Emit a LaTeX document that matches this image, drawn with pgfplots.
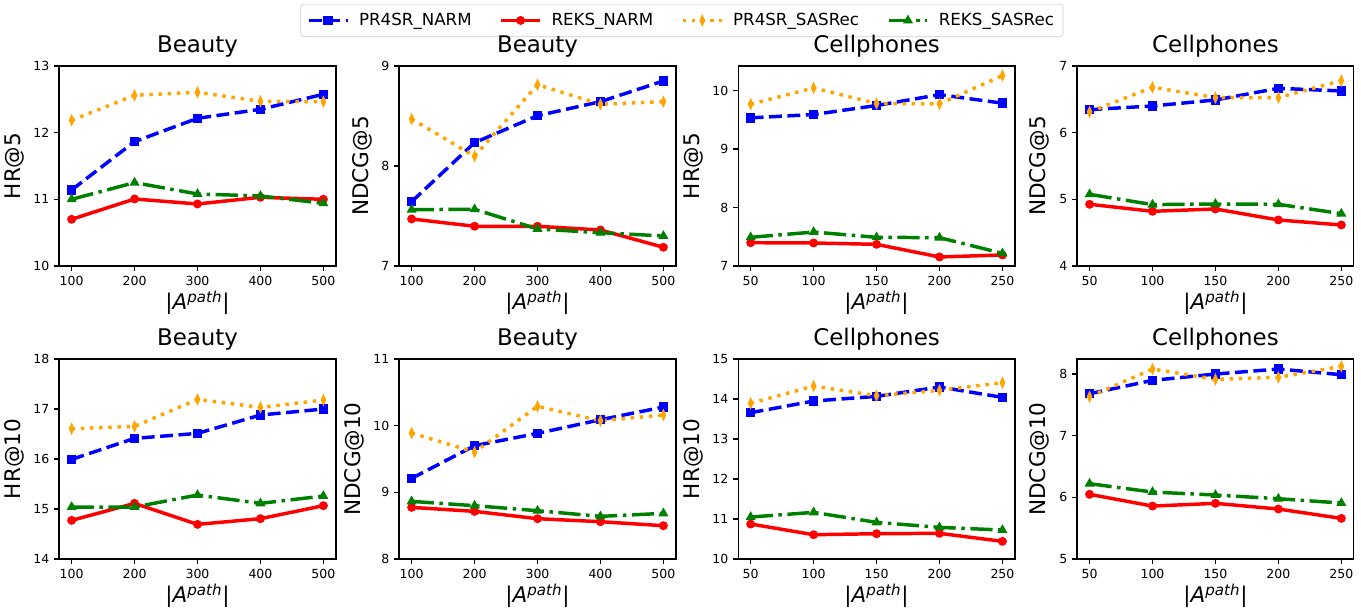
\documentclass[border=0pt]{standalone}
\usepackage{fontspec}
\setmainfont{DejaVu Sans}
\usepackage{pgfplots}
\pgfplotsset{compat=1.18}

\definecolor{mpblue}{rgb}{0,0,1}
\definecolor{mpred}{rgb}{1,0,0}
\definecolor{mporange}{rgb}{1,0.647,0}
\definecolor{mpgreen}{rgb}{0,0.502,0}

\pgfplotsset{
  panel/.style={
    width=199.4pt, height=144pt, scale only axis,
    anchor=north west,
    axis line style={line width=0.8pt},
    tick align=outside, xtick pos=bottom, ytick pos=left,
    major tick length=3.5pt,
    every tick/.style={black, line width=0.8pt},
    tick label style={font=\fontsize{9}{10}\selectfont},
    /pgf/number format/assume math mode=true,
    title style={font=\fontsize{16.5}{19}\selectfont, yshift=-3pt},
    label style={font=\fontsize{15.5}{18}\selectfont},
    xlabel style={yshift=3pt},
    xlabel={\textbar\textit{A}\textsuperscript{\textit{path}}\textbar},
    legend image code/.code={
      \draw[mark repeat=2,mark phase=2] plot coordinates {(0pt,0pt) (14pt,0pt) (28pt,0pt)};
    },
  },
  beauty/.style={xmin=80, xmax=520, xtick={100,200,300,400,500}, title={Beauty}},
  cell/.style={xmin=40, xmax=260, xtick={50,100,150,200,250}, title={Cellphones}},
  sA/.style={mpblue, line width=2.5pt, dash pattern=on 9.25pt off 4pt,
    mark=square*, mark size=3pt, mark options={solid, line width=0.8pt, fill=mpblue}},
  sB/.style={mpred, line width=2.5pt, solid,
    mark=*, mark size=2.8pt, mark options={solid, line width=0.8pt, fill=mpred}},
  sC/.style={mporange, line width=2.5pt, dash pattern=on 2.5pt off 4.1pt,
    mark=diamond*, mark size=3.6pt, mark options={solid, xscale=0.6, line width=0.8pt, fill=mporange}},
  sD/.style={mpgreen, line width=2.5pt, dash pattern=on 16pt off 4pt on 2.5pt off 4pt,
    mark=triangle*, mark size=3.4pt, mark options={solid, line width=0.8pt, fill=mpgreen}},
}

\begin{document}
\begin{tikzpicture}
\path[use as bounding box] (0pt,0pt) rectangle (979.9pt,-437.8pt);

% ---- row 1 ----
\begin{axis}[panel, beauty, at={(42.5pt,-47.5pt)},
  ymin=10, ymax=13, ytick={10,11,12,13}, ylabel={HR@5},
  legend columns=4,
  legend style={at={(2.249,1.2275)}, anchor=center, draw=black!20, rounded corners=2pt,
    font=\fontsize{12}{14}\selectfont, inner sep=4.5pt,
    /tikz/every odd column/.append style={column sep=5pt},
    /tikz/every even column/.append style={column sep=18pt}},
]
\addplot[sA] coordinates {(100,11.14)(200,11.865)(300,12.215)(400,12.35)(500,12.575)};
\addplot[sB] coordinates {(100,10.70)(200,11.005)(300,10.93)(400,11.03)(500,11.00)};
\addplot[sC] coordinates {(100,12.185)(200,12.56)(300,12.605)(400,12.47)(500,12.465)};
\addplot[sD] coordinates {(100,11.0)(200,11.25)(300,11.08)(400,11.05)(500,10.94)};
\legend{PR4SR\_NARM, REKS\_NARM, PR4SR\_SASRec, REKS\_SASRec}
\end{axis}

\begin{axis}[panel, beauty, at={(287.3pt,-47.5pt)},
  ymin=7, ymax=9, ytick={7,8,9}, ylabel={NDCG@5}]
\addplot[sA] coordinates {(100,7.643)(200,8.233)(300,8.503)(400,8.643)(500,8.85)};
\addplot[sB] coordinates {(100,7.47)(200,7.397)(300,7.397)(400,7.36)(500,7.187)};
\addplot[sC] coordinates {(100,8.47)(200,8.097)(300,8.813)(400,8.617)(500,8.643)};
\addplot[sD] coordinates {(100,7.563)(200,7.567)(300,7.37)(400,7.333)(500,7.30)};
\end{axis}

\begin{axis}[panel, cell, at={(531.4pt,-47.5pt)},
  ymin=7, ymax=10.42, ytick={7,8,9,10}, ylabel={HR@5}]
\addplot[sA] coordinates {(50,9.533)(100,9.59)(150,9.744)(200,9.93)(250,9.784)};
\addplot[sB] coordinates {(50,7.398)(100,7.393)(150,7.37)(200,7.154)(250,7.188)};
\addplot[sC] coordinates {(50,9.767)(100,10.045)(150,9.778)(200,9.772)(250,10.256)};
\addplot[sD] coordinates {(50,7.49)(100,7.58)(150,7.49)(200,7.484)(250,7.216)};
\end{axis}

\begin{axis}[panel, cell, at={(775.4pt,-47.5pt)},
  ymin=4, ymax=7, ytick={4,5,6,7}, ylabel={NDCG@5}]
\addplot[sA] coordinates {(50,6.345)(100,6.40)(150,6.49)(200,6.665)(250,6.625)};
\addplot[sB] coordinates {(50,4.925)(100,4.82)(150,4.855)(200,4.69)(250,4.615)};
\addplot[sC] coordinates {(50,6.31)(100,6.68)(150,6.525)(200,6.525)(250,6.78)};
\addplot[sD] coordinates {(50,5.075)(100,4.92)(150,4.93)(200,4.925)(250,4.785)};
\end{axis}

% ---- row 2 ----
\begin{axis}[panel, beauty, at={(42.5pt,-258.5pt)},
  ymin=14, ymax=18, ytick={14,15,16,17,18}, ylabel={HR@10}]
\addplot[sA] coordinates {(100,15.993)(200,16.413)(300,16.513)(400,16.88)(500,17.0)};
\addplot[sB] coordinates {(100,14.773)(200,15.113)(300,14.693)(400,14.807)(500,15.067)};
\addplot[sC] coordinates {(100,16.607)(200,16.653)(300,17.193)(400,17.033)(500,17.18)};
\addplot[sD] coordinates {(100,15.04)(200,15.04)(300,15.28)(400,15.113)(500,15.26)};
\end{axis}

\begin{axis}[panel, beauty, at={(287.3pt,-258.5pt)},
  ymin=8, ymax=11, ytick={8,9,10,11}, ylabel={NDCG@10}]
\addplot[sA] coordinates {(100,9.21)(200,9.70)(300,9.885)(400,10.09)(500,10.28)};
\addplot[sB] coordinates {(100,8.775)(200,8.715)(300,8.605)(400,8.56)(500,8.50)};
\addplot[sC] coordinates {(100,9.89)(200,9.605)(300,10.29)(400,10.075)(500,10.16)};
\addplot[sD] coordinates {(100,8.865)(200,8.80)(300,8.725)(400,8.64)(500,8.685)};
\end{axis}

\begin{axis}[panel, cell, at={(531.4pt,-258.5pt)},
  ymin=10, ymax=15, ytick={10,11,12,13,14,15}, ylabel={HR@10}]
\addplot[sA] coordinates {(50,13.658)(100,13.95)(150,14.067)(200,14.30)(250,14.042)};
\addplot[sB] coordinates {(50,10.875)(100,10.608)(150,10.633)(200,10.642)(250,10.442)};
\addplot[sC] coordinates {(50,13.892)(100,14.325)(150,14.083)(200,14.217)(250,14.408)};
\addplot[sD] coordinates {(50,11.05)(100,11.167)(150,10.917)(200,10.792)(250,10.725)};
\end{axis}

\begin{axis}[panel, cell, at={(775.4pt,-258.5pt)},
  ymin=5, ymax=8.243, ytick={5,6,7,8}, ylabel={NDCG@10}]
\addplot[sA] coordinates {(50,7.681)(100,7.897)(150,8.0)(200,8.081)(250,7.989)};
\addplot[sB] coordinates {(50,6.049)(100,5.859)(150,5.903)(200,5.811)(250,5.659)};
\addplot[sC] coordinates {(50,7.632)(100,8.081)(150,7.914)(200,7.946)(250,8.124)};
\addplot[sD] coordinates {(50,6.222)(100,6.086)(150,6.038)(200,5.978)(250,5.908)};
\end{axis}
\end{tikzpicture}
\end{document}
